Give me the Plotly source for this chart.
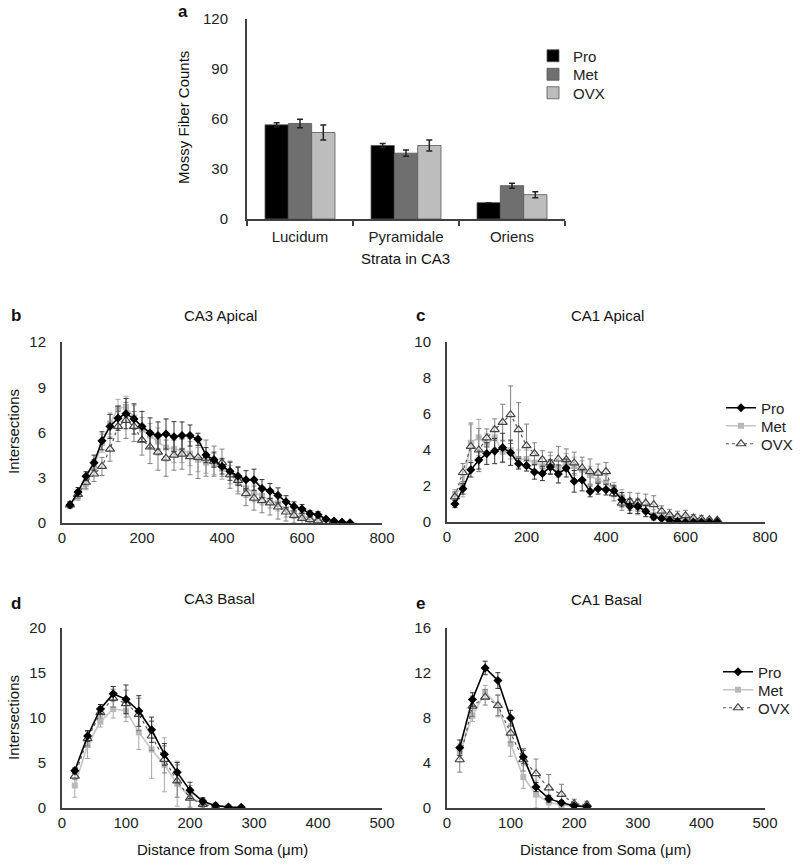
import plotly.graph_objects as go

W, H = 800, 867
FONT = "Liberation Sans, Arial, sans-serif"

# ---------- Panel a data ----------
strata = ["Lucidum", "Pyramidale", "Oriens"]
a_pro = [56.5, 44.1, 9.8]
a_pro_err = [1.2, 1.2, 0.0]
a_met = [57.3, 39.5, 20.0]
a_met_err = [2.6, 1.9, 1.5]
a_ovx = [51.9, 44.1, 14.6]
a_ovx_err = [4.5, 3.3, 1.8]

# ---------- Panel b: CA3 Apical ----------
b_x_pro = [20, 40, 60, 80, 100, 120, 140, 160, 180, 200, 220, 240, 260, 280, 300, 320, 340, 360,
           380, 400, 420, 440, 460, 480, 500, 520, 540, 560, 580, 600, 620, 640, 660, 680, 700, 720]
b_pro = [1.2, 2.05, 3.1, 4.0, 5.45, 6.4, 6.95, 7.25, 6.9, 6.4, 5.97, 5.8, 5.9, 5.72, 5.8, 5.8, 5.55, 4.5,
         4.2, 3.75, 3.43, 3.1, 2.87, 2.87, 2.28, 2.12, 1.83, 1.41, 1.1, 0.93, 0.62, 0.55, 0.27, 0.13, 0.05, 0.02]
b_pro_err = [0.2, 0.3, 0.3, 0.5, 0.6, 0.8, 0.8, 1.0, 1.0, 1.0, 1.0, 0.9, 1.0, 1.0, 0.9, 0.7, 0.4, 0.5,
             0.5, 0.5, 0.6, 0.6, 0.6, 0.7, 0.6, 0.5, 0.5, 0.4, 0.3, 0.3, 0.2, 0.2, 0.1, 0.1, 0.05, 0.03]
b_x = [20, 40, 60, 80, 100, 120, 140, 160, 180, 200, 220, 240, 260, 280, 300, 320, 340, 360,
       380, 400, 420, 440, 460, 480, 500, 520, 540, 560, 580, 600, 620, 640, 660, 680, 700]
b_met = [1.2, 1.8, 2.6, 3.7, 5.3, 6.6, 7.6, 7.7, 7.0, 6.2, 5.8, 5.4, 5.0, 4.9, 4.8, 4.6, 4.2, 4.0,
         3.9, 3.6, 3.2, 2.7, 2.3, 2.0, 1.8, 1.5, 1.3, 0.9, 0.7, 0.5, 0.3, 0.2, 0.1, 0.05, 0.02]
b_met_err = [0.2, 0.3, 0.4, 0.5, 0.6, 0.7, 0.6, 0.7, 0.8, 0.8, 0.8, 0.9, 0.9, 0.9, 0.8, 0.8, 0.8, 0.7,
             0.7, 0.7, 0.6, 0.6, 0.6, 0.6, 0.6, 0.5, 0.5, 0.5, 0.4, 0.3, 0.3, 0.2, 0.1, 0.1, 0.05]
b_ovx = [1.2, 1.9, 2.7, 3.25, 3.75, 4.9, 6.4, 6.8, 6.4, 5.5, 5.04, 4.7, 4.3, 4.5, 4.57, 4.4, 4.35, 4.3,
         4.1, 4.0, 3.2, 2.83, 1.95, 1.65, 1.48, 1.33, 1.06, 0.73, 0.5, 0.3, 0.22, 0.15, 0.1, 0.05, 0.02]
b_ovx_err = [0.2, 0.3, 0.4, 0.5, 0.6, 0.8, 1.0, 1.2, 1.0, 1.0, 1.1, 1.2, 1.2, 1.0, 1.0, 1.2, 1.4, 1.2,
             1.0, 0.9, 0.9, 0.9, 0.8, 0.8, 0.8, 0.8, 0.8, 0.6, 0.5, 0.4, 0.3, 0.2, 0.15, 0.1, 0.05]

# ---------- Panel c: CA1 Apical ----------
c_x = [20, 40, 60, 80, 100, 120, 140, 160, 180, 200, 220, 240, 260, 280, 300, 320, 340,
       360, 380, 400, 420, 440, 460, 480, 500, 520, 540, 560, 580, 600, 620, 640, 660, 680]
c_pro = [1.0, 1.85, 2.9, 3.44, 3.8, 3.94, 4.13, 3.85, 3.24, 3.13, 2.78, 2.7, 3.05, 2.67, 3.0, 2.26, 2.33,
         1.7, 1.85, 1.8, 1.74, 1.24, 0.87, 0.87, 0.6, 0.28, 0.19, 0.1, 0.04, 0.0, 0.0, 0.0, 0.0, 0.0]
c_pro_err = [0.2, 0.3, 0.4, 0.5, 0.6, 0.7, 0.8, 0.7, 0.3, 0.3, 0.4, 0.4, 0.4, 0.5, 0.5, 0.6, 0.6,
             0.3, 0.3, 0.3, 0.3, 0.4, 0.4, 0.4, 0.3, 0.15, 0.1, 0.05, 0.03, 0.0, 0.0, 0.0, 0.0, 0.0]
c_met = [1.5, 2.0, 4.4, 4.7, 4.3, 4.7, 3.9, 4.0, 3.5, 3.5, 3.3, 3.1, 3.2, 3.0, 3.3, 3.1, 2.9,
         2.6, 2.3, 2.2, 1.8, 1.4, 0.9, 0.8, 0.6, 0.4, 0.3, 0.3, 0.25, 0.2, 0.15, 0.1, 0.08, 0.05]
c_met_err = [0.3, 0.6, 1.0, 1.0, 0.6, 0.6, 0.6, 0.5, 0.5, 0.5, 0.5, 0.5, 0.5, 0.5, 0.5, 0.5, 0.5,
             0.5, 0.5, 0.4, 0.4, 0.4, 0.4, 0.4, 0.3, 0.3, 0.2, 0.2, 0.2, 0.2, 0.1, 0.1, 0.05, 0.05]
c_ovx = [1.4, 2.75, 4.2, 4.0, 4.67, 5.13, 5.54, 5.96, 5.13, 4.24, 3.8, 3.46, 3.28, 3.5, 3.46, 3.28, 3.0,
         2.8, 2.72, 2.8, 1.57, 1.05, 1.15, 1.1, 1.05, 0.96, 0.6, 0.4, 0.3, 0.35, 0.22, 0.17, 0.13, 0.1]
c_ovx_err = [0.3, 0.5, 1.3, 1.2, 0.5, 0.6, 1.0, 1.6, 1.5, 1.2, 0.6, 0.5, 0.6, 0.7, 0.6, 0.6, 0.6,
             0.7, 0.5, 0.5, 0.4, 0.4, 0.5, 0.5, 0.5, 0.5, 0.3, 0.3, 0.3, 0.3, 0.2, 0.2, 0.1, 0.1]

# ---------- Panel d: CA3 Basal ----------
d_x_pro = [20, 40, 60, 80, 100, 120, 140, 160, 180, 200, 220, 240, 260, 280]
d_pro = [4.15, 8.0, 11.0, 12.7, 12.07, 10.78, 8.7, 5.96, 3.96, 1.96, 0.74, 0.26, 0.11, 0.07]
d_pro_err = [0.3, 0.6, 0.5, 0.8, 1.6, 1.7, 1.4, 1.2, 1.1, 0.9, 0.4, 0.2, 0.1, 0.05]
d_x_met = [20, 40, 60, 80, 100, 120, 140, 160, 180, 200, 220, 240, 260]
d_met = [2.5, 7.0, 9.6, 11.0, 10.8, 8.4, 6.5, 4.8, 2.7, 1.2, 0.5, 0.3, 0.1]
d_met_err = [1.3, 1.5, 0.6, 1.0, 1.2, 1.9, 3.2, 3.0, 2.5, 1.3, 0.5, 0.3, 0.1]
d_x_ovx = [20, 40, 60, 80, 100, 120, 140, 160, 180, 200, 220, 240]
d_ovx = [3.55, 7.7, 10.6, 12.2, 11.6, 10.4, 8.0, 5.4, 3.0, 1.1, 0.4, 0.1]
d_ovx_err = [0.4, 0.8, 0.6, 1.0, 1.5, 1.8, 1.6, 1.5, 1.8, 1.0, 0.4, 0.2]

# ---------- Panel e: CA1 Basal ----------
e_x = [20, 40, 60, 80, 100, 120, 140, 160, 180, 200, 220]
e_pro = [5.35, 9.64, 12.45, 11.33, 7.99, 4.53, 1.86, 0.83, 0.47, 0.2, 0.12]
e_pro_err = [0.7, 0.6, 0.6, 0.7, 0.7, 0.6, 0.4, 0.3, 0.2, 0.1, 0.1]
e_met = [4.9, 8.2, 10.3, 9.1, 5.7, 2.75, 1.2, 0.5, 0.25, 0.15, 0.1]
e_met_err = [0.8, 0.5, 0.6, 1.0, 1.1, 1.0, 1.2, 0.6, 0.3, 0.2, 0.1]
e_ovx = [4.29, 9.05, 9.85, 9.11, 6.66, 4.29, 3.05, 1.78, 1.21, 0.38, 0.3]
e_ovx_err = [1.1, 0.9, 0.7, 0.9, 0.8, 1.0, 1.3, 1.2, 0.9, 0.4, 0.3]

groups = ["Pro", "Met", "OVX"]
bar_colors = ["#000000", "#6f6f6f", "#bdbdbd"]


def px(x):
    return x / W


def py(y):
    return 1 - y / H


fig = go.Figure()

# Panel a bars (each legend entry gets its own one-item legend for exact spacing)
for i, (name, vals, errs, col) in enumerate(zip(groups, [a_pro, a_met, a_ovx],
                                                 [a_pro_err, a_met_err, a_ovx_err], bar_colors)):
    fig.add_trace(go.Bar(
        x=strata, y=vals, name=name, marker=dict(color=col, line=dict(color="#555555", width=0.8)),
        error_y=dict(type="data", array=errs, color="#222222", thickness=1.5, width=3),
        xaxis="x", yaxis="y", legend="legend" if i == 0 else f"legend{i + 1}"))

STY = {
    "Pro": dict(line=dict(color="#000000", width=1.6),
                marker=dict(symbol="diamond", size=7, color="#000000"),
                ecol="#333333"),
    "Met": dict(line=dict(color="#c4c4c4", width=1.6),
                marker=dict(symbol="square", size=6, color="#b8b8b8"),
                ecol="#a8a8a8"),
    "OVX": dict(line=dict(color="#555555", width=1.2, dash="dot"),
                marker=dict(symbol="triangle-up", size=8, color="rgba(255,255,255,0.5)",
                            line=dict(color="#444444", width=1.2)),
                ecol="#808080"),
}


def add_series(xs, ys, errs, name, xa, ya, legend=None):
    s = STY[name]
    fig.add_trace(go.Scatter(
        x=xs, y=ys, name=name, mode="lines+markers", line=s["line"], marker=s["marker"],
        error_y=dict(type="data", array=errs, color=s["ecol"], thickness=1, width=2.5),
        xaxis=xa, yaxis=ya, showlegend=legend is not None, legend=legend or "legend"))


add_series(b_x, b_met, b_met_err, "Met", "x2", "y2")
add_series(b_x, b_ovx, b_ovx_err, "OVX", "x2", "y2")
add_series(b_x_pro, b_pro, b_pro_err, "Pro", "x2", "y2")

add_series(c_x, c_met, c_met_err, "Met", "x3", "y3", "legend5")
add_series(c_x, c_ovx, c_ovx_err, "OVX", "x3", "y3", "legend6")
add_series(c_x, c_pro, c_pro_err, "Pro", "x3", "y3", "legend4")

add_series(d_x_met, d_met, d_met_err, "Met", "x4", "y4")
add_series(d_x_ovx, d_ovx, d_ovx_err, "OVX", "x4", "y4")
add_series(d_x_pro, d_pro, d_pro_err, "Pro", "x4", "y4")

add_series(e_x, e_met, e_met_err, "Met", "x5", "y5", "legend8")
add_series(e_x, e_ovx, e_ovx_err, "OVX", "x5", "y5", "legend9")
add_series(e_x, e_pro, e_pro_err, "Pro", "x5", "y5", "legend7")

AX = dict(showline=True, linecolor="#404040", linewidth=2, showgrid=False, zeroline=False,
          tickfont=dict(size=15, color="#222222", family=FONT), ticks="")


def xa(dom, anchor, rng, dtick):
    return dict(AX, domain=dom, anchor=anchor, range=rng, dtick=dtick, tick0=0)


def ya(dom, anchor, rng, dtick):
    return dict(AX, domain=dom, anchor=anchor, range=rng, dtick=dtick, tick0=0, ticklabelstandoff=11)


def leg(x, y):
    return dict(x=px(x), y=py(y), xanchor="left", yanchor="middle", font=dict(size=15),
                bgcolor="rgba(0,0,0,0)", itemwidth=30, borderwidth=0)


layout = dict(
    width=W, height=H, margin=dict(l=0, r=0, t=0, b=0, autoexpand=False),
    paper_bgcolor="white", plot_bgcolor="white",
    font=dict(family=FONT, size=15, color="#222222"),
    barmode="group", bargap=0.34, bargroupgap=0,
    xaxis=dict(AX, domain=[px(247), px(565)], anchor="y", type="category",
               ticks="outside", tickson="boundaries", ticklen=5, tickcolor="#404040", tickwidth=1.5,
               ticklabelstandoff=3),
    yaxis=dict(AX, domain=[py(219), py(19)], anchor="x", range=[0, 120], dtick=30, tick0=0,
               ticklabelstandoff=14),
    xaxis2=xa([px(62), px(382)], "y2", [0, 800], 200),
    yaxis2=ya([py(523), py(342)], "x2", [0, 12], 3),
    xaxis3=xa([px(447), px(765)], "y3", [0, 800], 200),
    yaxis3=ya([py(522), py(342)], "x3", [0, 10], 2),
    xaxis4=xa([px(62), px(382)], "y4", [0, 500], 100),
    yaxis4=ya([py(808), py(628)], "x4", [0, 20], 5),
    xaxis5=xa([px(447), px(765)], "y5", [0, 500], 100),
    yaxis5=ya([py(808), py(628)], "x5", [0, 16], 4),
    legend=leg(533, 56),
    legend2=leg(533, 74.5),
    legend3=leg(533, 93),
    legend4=leg(721, 408),
    legend5=leg(721, 426),
    legend6=leg(721, 444),
    legend7=leg(718, 672),
    legend8=leg(718, 690),
    legend9=leg(718, 708),
)
fig.update_layout(**layout)

ann = []


def text(x, y, s, size=15, bold=False, angle=0, xanchor="center"):
    ann.append(dict(x=px(x), y=py(y), xref="paper", yref="paper", text=f"<b>{s}</b>" if bold else s,
                    showarrow=False, xanchor=xanchor, yanchor="middle", textangle=angle,
                    font=dict(size=size, family=FONT, color="#111111")))


# panel letters
text(183, 12, "a", 17, True)
text(16, 315, "b", 17, True)
text(420, 316, "c", 17, True)
text(16, 603, "d", 17, True)
text(420, 603, "e", 17, True)
# titles
text(220, 315, "CA3 Apical", 15)
text(607, 315, "CA1 Apical", 15)
text(219, 598, "CA3 Basal", 15)
text(606, 599, "CA1 Basal", 15)
# axis titles
text(183, 118, "Mossy Fiber Counts", 15, angle=-90)
text(406, 258, "Strata in CA3", 15)
text(13, 432, "Intersections", 15, angle=-90)
text(13, 718, "Intersections", 15, angle=-90)
text(222, 849, "Distance from Soma (μm)", 15)
text(605, 849, "Distance from Soma (μm)", 15)

fig.update_layout(annotations=ann)
fig.write_html("out.html", config={"displayModeBar": False},
               post_script="document.body.style.margin='0';")
